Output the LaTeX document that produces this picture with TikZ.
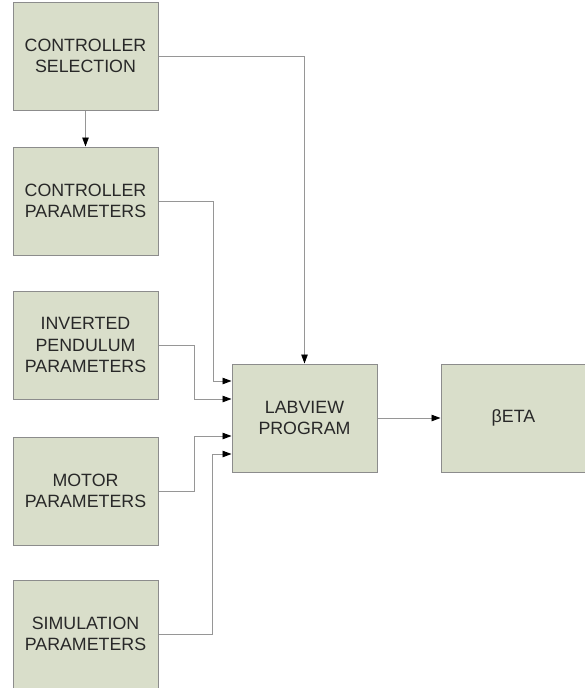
\documentclass[tikz,border=0pt]{standalone}
\usepackage{fontspec}
\setmainfont{Liberation Sans}
\usetikzlibrary{arrows.meta}
\definecolor{boxfill}{RGB}{217,222,202}
\definecolor{boxline}{RGB}{140,140,140}
\definecolor{wire}{RGB}{150,150,150}
\definecolor{txt}{RGB}{40,40,40}
\begin{document}
\begin{tikzpicture}[x=1pt,y=-1pt,
  blk/.style={draw=boxline, fill=boxfill, line width=1pt, minimum width=145pt, minimum height=108pt, align=center, text=txt, font=\fontsize{17.8}{21.5}\selectfont, inner sep=0pt},
  wirearrow/.style={draw=wire, line width=0.9pt, -{Triangle[length=9pt,width=6.5pt,color=black,fill=black]}}]
\useasboundingbox (0,0) rectangle (585,688);
\node[blk] (cs)  at (85.5,56)  {CONTROLLER\\SELECTION};
\node[blk] (cp)  at (85.5,201) {CONTROLLER\\PARAMETERS};
\node[blk] (ip)  at (85.5,345) {INVERTED\\PENDULUM\\PARAMETERS};
\node[blk] (mp)  at (85.5,491) {MOTOR\\PARAMETERS};
\node[blk] (sp)  at (85.5,634) {SIMULATION\\PARAMETERS};
\node[blk] (lv)  at (304.5,418) {LABVIEW\\PROGRAM};
\node[blk] (bt)  at (513.5,418) {βETA};
\draw[wirearrow] (cs.south) -- (cp.north);
\draw[wirearrow] (cs.east) -| (lv.north);
\draw[wirearrow] (cp.east) -- (213,201) -- (213,381) -- (lv.west |- 0,381);
\draw[wirearrow] (ip.east) -- (194,345) -- (194,399) -- (lv.west |- 0,399);
\draw[wirearrow] (mp.east) -- (194,491) -- (194,436) -- (lv.west |- 0,436);
\draw[wirearrow] (sp.east) -- (212,634) -- (212,454) -- (lv.west |- 0,454);
\draw[wirearrow] (lv.east) -- (bt.west);
\end{tikzpicture}
\end{document}
